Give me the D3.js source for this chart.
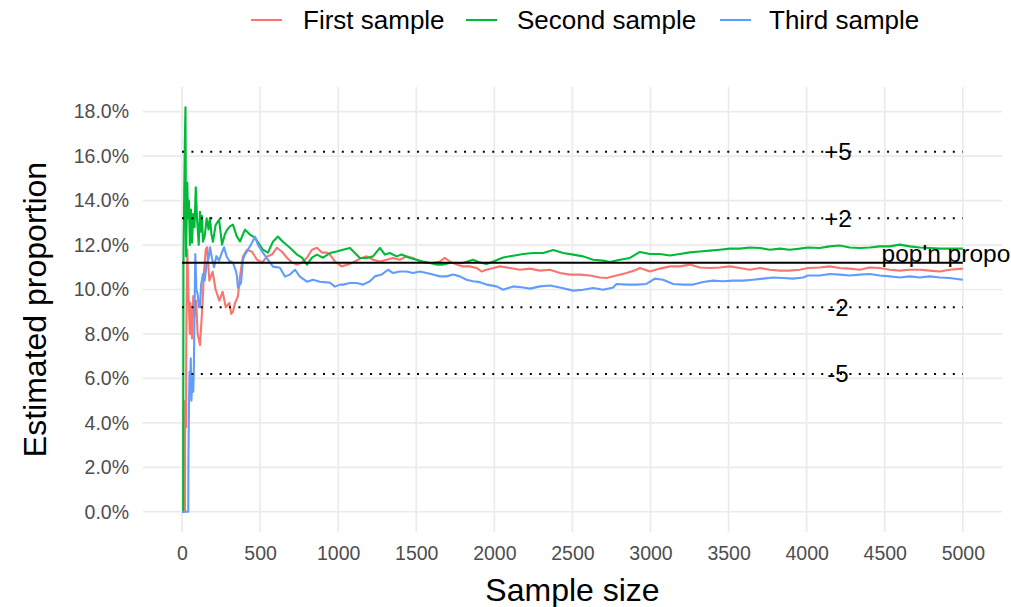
<!DOCTYPE html>
<html>
<head>
<meta charset="utf-8">
<script src="https://cdn.jsdelivr.net/npm/d3@7"></script>
<style>
  html, body { margin: 0; padding: 0; background: #ffffff; }
  svg { display: block; font-family: "Liberation Sans", Arial, Helvetica, sans-serif; }
</style>
</head>
<body>
<svg id="chart" width="1011" height="607"></svg>
<script>
// ---------------- data (sample size, estimated proportion in %) ----------------
const seriesNames = ["First sample", "Second sample", "Third sample"];
const seriesColors = ["#F8766D", "#00BA38", "#619CFF"];

const firstN = [1,19,20,26,27,30,34,40,50,53,64,72,80,90,100,115,130,140,152,160,175,196,215,239,260,280,303,315,326,340,358,371,390,416,448,480,512,544,576,608,640,672,704,736,768,800,832,864,896,928,947,979,1022,1063,1107,1150,1182,1223,1267,1310,1351,1395,1438,1479,1523,1566,1607,1651,1683,1715,1758,1799,1843,1886,1918,1950,1993,2035,2100,2164,2228,2292,2356,2420,2484,2548,2612,2676,2718,2782,2847,2911,2932,2996,3060,3124,3188,3252,3316,3380,3444,3508,3572,3636,3700,3764,3828,3892,3956,4009,4084,4148,4212,4276,4340,4404,4468,4532,4596,4660,4724,4788,4852,4916,5000];
const firstP = [0,0,5.0,3.8,7.4,10.0,11.8,10.0,8.0,9.4,7.8,9.7,8.8,9.5,8.0,7.5,9.2,10.7,11.8,11.9,10.4,10.8,10.0,9.5,9.9,9.2,9.4,8.9,9.0,9.4,9.7,10.58,11.48,11.79,11.70,11.34,11.21,11.48,11.57,11.88,11.70,11.43,11.21,11.12,11.21,11.43,11.79,11.88,11.66,11.66,11.57,11.26,11.04,11.12,11.26,11.42,11.49,11.34,11.26,11.34,11.42,11.34,11.49,11.42,11.26,11.19,11.19,11.26,11.42,11.26,11.12,11.04,11.04,10.97,10.81,10.89,10.97,11.04,10.97,10.89,10.94,10.85,10.89,10.74,10.67,10.67,10.63,10.54,10.52,10.63,10.74,10.89,10.97,10.81,10.94,11.04,11.04,11.12,10.99,10.97,10.99,11.04,10.97,10.89,10.97,10.89,10.85,10.85,10.89,10.97,10.99,11.04,10.97,10.94,10.89,10.99,10.97,10.89,10.85,10.89,10.89,10.85,10.81,10.89,10.94];

const secondN = [1,7,9,14,18,22,26,30,34,38,44,50,57,64,72,80,88,96,107,115,122,128,134,145,158,170,179,188,198,215,237,248,256,275,290,307,326,350,371,403,435,467,518,550,582,614,646,691,736,768,800,832,864,903,947,990,1031,1075,1107,1139,1182,1223,1267,1299,1331,1374,1406,1459,1502,1543,1587,1630,1671,1715,1758,1799,1863,1907,1950,1993,2057,2121,2185,2249,2313,2377,2441,2505,2569,2633,2697,2740,2804,2868,2911,2932,2996,3060,3124,3188,3252,3316,3380,3444,3508,3572,3636,3700,3764,3828,3892,3956,4009,4084,4148,4212,4276,4340,4404,4468,4532,4596,4660,4724,4788,4852,4916,5000];
const secondP = [0,0,11.1,14.3,16.7,18.2,11.5,13.3,14.8,13.2,14.0,12.0,13.6,12.1,13.4,12.8,14.6,13.2,12.0,13.5,12.6,13.3,12.15,12.4,13.2,12.7,13.23,12.5,12.15,12.9,13.14,12.5,12.02,12.5,12.7,12.84,12.92,12.4,12.16,12.69,12.47,12.33,11.79,11.66,12.15,12.38,12.15,11.88,11.57,11.43,11.12,11.43,11.57,11.43,11.64,11.71,11.79,11.87,11.64,11.42,11.42,11.49,11.87,11.57,11.64,11.49,11.57,11.42,11.34,11.26,11.19,11.12,11.12,11.19,11.19,11.19,11.34,11.22,11.15,11.26,11.44,11.52,11.60,11.64,11.64,11.78,11.64,11.57,11.49,11.34,11.30,11.24,11.34,11.42,11.60,11.69,11.60,11.60,11.53,11.60,11.67,11.71,11.75,11.79,11.84,11.84,11.89,11.87,11.79,11.84,11.79,11.84,11.89,11.87,11.94,11.98,11.89,11.87,11.89,11.94,11.94,12.02,11.94,11.89,11.87,11.84,11.84,11.84];

const thirdN = [1,40,41,44,48,52,56,60,66,72,76,80,85,92,100,108,115,122,134,145,158,170,179,192,205,220,237,252,269,285,301,326,346,352,358,378,390,403,422,448,467,486,518,550,582,627,659,691,723,755,800,838,883,947,979,1011,1031,1075,1118,1159,1203,1235,1278,1319,1351,1395,1438,1479,1523,1566,1607,1651,1694,1735,1779,1822,1863,1907,1950,2014,2057,2121,2185,2228,2292,2356,2420,2505,2569,2633,2697,2761,2782,2847,2911,2974,3028,3081,3145,3209,3273,3337,3401,3465,3529,3593,3657,3721,3785,3849,3913,3977,4009,4084,4148,4212,4276,4340,4404,4468,4532,4596,4660,4724,4788,4852,4916,5000];
const thirdP = [0,0,2.4,4.5,6.3,5.8,6.9,5.0,6.1,5.4,6.6,9.0,11.6,10.0,9.8,9.2,9.2,10.2,10.7,10.4,11.2,11.4,11.9,11.4,11.0,11.5,11.3,11.6,11.9,11.5,11.3,11.21,10.8,10.58,10.08,10.31,11.34,11.57,11.79,12.10,12.37,12.02,11.66,11.34,11.03,10.98,10.58,10.67,10.89,10.58,10.35,10.44,10.35,10.31,10.13,10.22,10.22,10.29,10.29,10.22,10.37,10.59,10.67,10.89,10.74,10.81,10.81,10.74,10.81,10.74,10.67,10.59,10.59,10.67,10.59,10.44,10.37,10.33,10.22,10.14,9.99,10.14,10.09,10.04,10.14,10.18,10.09,9.95,9.99,10.07,9.99,10.09,10.25,10.22,10.22,10.25,10.49,10.44,10.25,10.22,10.22,10.34,10.40,10.37,10.40,10.40,10.44,10.49,10.54,10.52,10.49,10.54,10.63,10.63,10.70,10.67,10.63,10.67,10.70,10.63,10.59,10.54,10.59,10.54,10.59,10.54,10.52,10.44];

// reference lines (population proportion and +/- offsets, in %)
const popProportion = 11.2;
const refOffsets = [5, 2, -2, -5];
const refLabels = ["+5", "+2", "-2", "-5"];
const refLabelN = 4200;
const popLabel = "pop'n proportion";
const popLabelN = 4480;
const refLineStartN = 0;
const refLineEndN = 5000;

const xTicks = [0,500,1000,1500,2000,2500,3000,3500,4000,4500,5000];
const yTicks = [0,0.02,0.04,0.06,0.08,0.10,0.12,0.14,0.16,0.18];

// ---------------- build ----------------
const svg = d3.select("#chart");
const panel = {left: 143, right: 1002, top: 87, bottom: 532};

const x = d3.scaleLinear().domain([-249.95, 5250.95]).range([panel.left, panel.right]);
const y = d3.scaleLinear().domain([-0.0091, 0.1911]).range([panel.bottom, panel.top]);

// gridlines
const grid = svg.append("g");
grid.selectAll("line.gx").data(xTicks).enter().append("line")
  .attr("x1", d => x(d)).attr("x2", d => x(d))
  .attr("y1", panel.top).attr("y2", panel.bottom)
  .attr("stroke", "#EBEBEB").attr("stroke-width", 1.7);
grid.selectAll("line.gy").data(yTicks).enter().append("line")
  .attr("x1", panel.left).attr("x2", panel.right)
  .attr("y1", d => y(d)).attr("y2", d => y(d))
  .attr("stroke", "#EBEBEB").attr("stroke-width", 1.7);

// axes (tick labels only)
const xAxis = d3.axisBottom(x).tickValues(xTicks).tickFormat(d3.format("d")).tickSize(0).tickPadding(0);
const gx = svg.append("g").attr("transform", `translate(0,${panel.bottom + 14})`).call(xAxis);
gx.select(".domain").remove();
gx.selectAll("text").attr("fill", "#4D4D4D").attr("font-size", 19.5)
  .attr("font-family", "Liberation Sans, Arial, sans-serif").attr("dy", "0.71em");

const yAxis = d3.axisLeft(y).tickValues(yTicks).tickFormat(d3.format(".1%")).tickSize(0).tickPadding(0);
const gy = svg.append("g").attr("transform", `translate(${panel.left - 14},0)`).call(yAxis);
gy.select(".domain").remove();
gy.selectAll("text").attr("fill", "#4D4D4D").attr("font-size", 19.5)
  .attr("font-family", "Liberation Sans, Arial, sans-serif");

// series lines
const series = [
  {name: seriesNames[0], color: seriesColors[0], n: firstN, p: firstP},
  {name: seriesNames[1], color: seriesColors[1], n: secondN, p: secondP},
  {name: seriesNames[2], color: seriesColors[2], n: thirdN, p: thirdP}
];
const line = d3.line().x(d => x(d[0])).y(d => y(d[1] / 100));
series.forEach(s => {
  const pts = s.n.map((v, i) => [v, s.p[i]]);
  svg.append("path").datum(pts)
    .attr("fill", "none").attr("stroke", s.color).attr("stroke-width", 2.1)
    .attr("stroke-linejoin", "round").attr("d", line);
});

// reference lines
svg.append("line")
  .attr("x1", x(refLineStartN)).attr("x2", x(refLineEndN))
  .attr("y1", y(popProportion / 100)).attr("y2", y(popProportion / 100))
  .attr("stroke", "#000").attr("stroke-width", 1.9);
refOffsets.forEach((o, i) => {
  const v = (popProportion + o) / 100;
  svg.append("line")
    .attr("x1", x(refLineStartN)).attr("x2", x(refLineEndN))
    .attr("y1", y(v)).attr("y2", y(v))
    .attr("stroke", "#000").attr("stroke-width", 2)
    .attr("stroke-dasharray", "2 7.4");
  svg.append("text")
    .attr("x", x(refLabelN)).attr("y", y(v))
    .attr("text-anchor", "middle").attr("dominant-baseline", "central")
    .attr("font-size", 24).attr("fill", "#000")
    .text(refLabels[i]);
});
svg.append("text")
  .attr("x", x(popLabelN)).attr("y", y(popProportion / 100) - 1)
  .attr("text-anchor", "start")
  .attr("font-size", 24.5).attr("fill", "#000")
  .text(popLabel);

// axis titles
svg.append("text")
  .attr("x", (panel.left + panel.right) / 2).attr("y", 601)
  .attr("text-anchor", "middle").attr("font-size", 32).attr("fill", "#000")
  .text("Sample size");
svg.append("text")
  .attr("transform", `translate(46,${(panel.top + panel.bottom) / 2}) rotate(-90)`)
  .attr("text-anchor", "middle").attr("font-size", 32).attr("fill", "#000")
  .text("Estimated proportion");

// legend
const legendItems = [
  {key: [251, 282], text: 303},
  {key: [466, 497], text: 517},
  {key: [720, 751], text: 769}
];
const legendY = 20;
series.forEach((s, i) => {
  const it = legendItems[i];
  svg.append("line")
    .attr("x1", it.key[0]).attr("x2", it.key[1])
    .attr("y1", legendY).attr("y2", legendY)
    .attr("stroke", s.color).attr("stroke-width", 2.1);
  svg.append("text")
    .attr("x", it.text).attr("y", legendY)
    .attr("dominant-baseline", "central")
    .attr("font-size", 26).attr("fill", "#000")
    .text(s.name);
});
</script>
</body>
</html>
